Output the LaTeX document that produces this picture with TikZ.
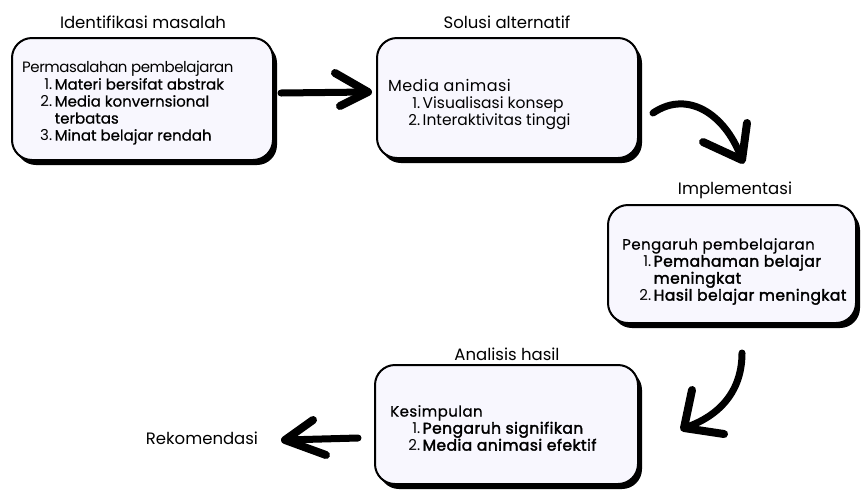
\documentclass[tikz,border=0pt]{standalone}
\usepackage{fontspec}
\setmainfont{Poppins}
\newfontfamily\medfont{Poppins}[FakeBold=0.6]
\newfontfamily\headfont{Poppins}[FakeBold=0.6,LetterSpace=3]
\newfontfamily\semifont{Poppins}[FakeBold=2.2,LetterSpace=3]
\newfontfamily\tightfont{Poppins}[LetterSpace=-3]
\newfontfamily\widefont{Poppins}[LetterSpace=2.5]
\usetikzlibrary{shadows}
\definecolor{boxfill}{RGB}{248,247,254}
\newcommand\itemnum[2]{\makebox[16pt][r]{#1}\,#2}
\newcommand\itsize{\fontsize{15.5}{17}\selectfont}
\begin{document}
\begin{tikzpicture}[x=1pt,y=-1pt,
  box/.style={draw=black, line width=2pt, fill=boxfill, rounded corners=20pt,
    drop shadow={shadow xshift=4pt, shadow yshift=-5pt, fill=black, opacity=1},
    inner sep=0pt},
  title/.style={font=\fontsize{16.5}{18}\selectfont, inner sep=0pt},
  body/.style={font=\fontsize{15}{17}\selectfont, align=left, anchor=north west, inner sep=0pt},
  shaft/.style={line width=7pt, line cap=round},
  barb/.style={line width=8pt, line cap=round, line join=round}]
\useasboundingbox (0,0) rectangle (861,491);
\fill[white] (0,0) rectangle (861,491);

% boxes
\node[box, minimum width=261pt, minimum height=122pt] (b1) at (142.5,99) {};
\node[box, minimum width=261pt, minimum height=120pt] (b2) at (507.5,98) {};
\node[box, minimum width=248pt, minimum height=118pt] (b3) at (732,264) {};
\node[box, minimum width=263pt, minimum height=119pt] (b4) at (506.5,424.5) {};

% titles
\node[title] (t1) at (143,22) {Identifikasi masalah};
\node[title] (t2) at (507,22) {Solusi alternatif};
\node[title] (t3) at (735,190) {Implementasi};
\node[title] (t4) at (507,354) {Analisis hasil};
\node[title] (t5) at (202,438) {Rekomendasi};

% body texts
\node[body] (x1) at (22,61) {{\tightfont Permasalahan pembelajaran}\\
  \hspace*{14pt}\itemnum{1.}{\medfont Materi bersifat abstrak}\\
  \hspace*{14pt}\itemnum{2.}{\medfont Media konvernsional}\\
  \hspace*{14pt}\makebox[16pt]{}\,{\medfont terbatas}\\
  \hspace*{14pt}\itemnum{3.}{\medfont Minat belajar rendah}};
\node[body] (x2) at (388,79) {{\widefont\fontsize{16}{17}\selectfont Media animasi}\\
  \hspace*{16pt}\itemnum{1.}{\itsize Visualisasi konsep}\\
  \hspace*{16pt}\itemnum{2.}{\itsize Interaktivitas tinggi}};
\node[body] (x3) at (622,238) {{\headfont Pengaruh pembelajaran}\\
  \hspace*{13pt}\itemnum{1.}{\semifont\itsize Pemahaman belajar}\\
  \hspace*{13pt}\makebox[16pt]{}\,{\semifont\itsize meningkat}\\
  \hspace*{13pt}\itemnum{2.}{\semifont\itsize Hasil belajar meningkat}};
\node[body] (x4) at (390,405) {{\headfont Kesimpulan}\\
  \hspace*{14pt}\itemnum{1.}{\semifont\itsize Pengaruh signifikan}\\
  \hspace*{14pt}\itemnum{2.}{\semifont\itsize Media animasi efektif}};

% arrow 1
\coordinate (a1s) at (281,93);
\coordinate (a1e) at (368,92);
\coordinate (a1u) at (335,73);
\coordinate (a1d) at (340,106);
\draw[shaft] (a1s) -- (a1e);
\draw[barb] (a1u) -- (a1e) -- (a1d);

% arrow 2
\coordinate (a2s) at (653,113);
\coordinate (a2e) at (742,160);
\coordinate (a2u) at (703,142);
\coordinate (a2d) at (747,123);
\draw[shaft] (a2s) .. controls (690,88) and (728,118) .. (a2e);
\draw[barb] (a2u) -- (a2e) -- (a2d);

% arrow 3
\coordinate (a3s) at (742,353);
\coordinate (a3e) at (684,428);
\coordinate (a3u) at (692,390);
\coordinate (a3d) at (724,434);
\draw[shaft] (a3s) .. controls (742,395) and (715,418) .. (a3e);
\draw[barb] (a3u) -- (a3e) -- (a3d);

% arrow 4
\coordinate (a4s) at (358,438);
\coordinate (a4e) at (285,440);
\coordinate (a4u) at (313,420);
\coordinate (a4d) at (326,455);
\draw[shaft] (a4s) -- (a4e);
\draw[barb] (a4u) -- (a4e) -- (a4d);
\end{tikzpicture}
\end{document}
